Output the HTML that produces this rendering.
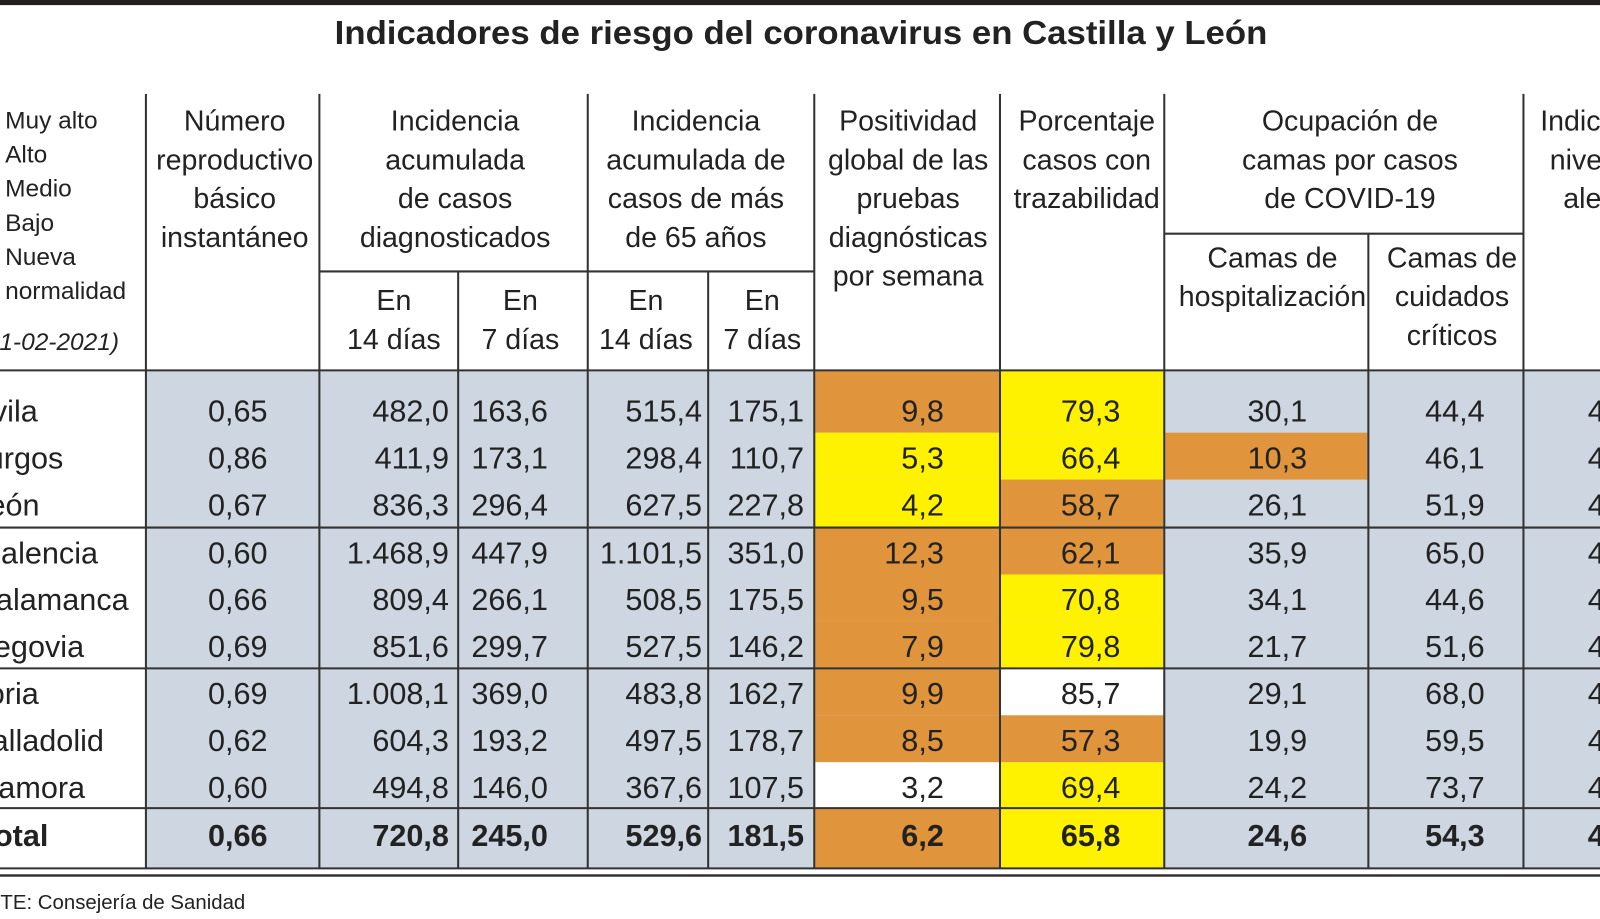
<!DOCTYPE html>
<html><head><meta charset="utf-8"><style>
html,body{margin:0;padding:0;background:#fff;width:1600px;height:919px;overflow:hidden}
svg{display:block}
text{font-family:"Liberation Sans",Arial,sans-serif;fill:#222}
</style></head><body>
<svg width="1600" height="919" xmlns="http://www.w3.org/2000/svg"><g id="s" transform="scale(1.0204)"></g></svg>
<script>
const s=document.getElementById('s');let h='';
const G='#cdd6e1',O='#e0953c',Y='#fff200',W='#ffffff';
h+=`<rect x="0" y="0" width="1600" height="5" fill="#231f1c"/>`;
h+=`<text x="785" y="43" text-anchor="middle" font-weight="bold" font-size="33" textLength="914" lengthAdjust="spacingAndGlyphs">Indicadores de riesgo del coronavirus en Castilla y León</text>`;
h+=`<rect x="143" y="363" width="1457" height="488" fill="${G}"/>`;
const rows=[[363,424],[424,470],[470,517],[517,563],[563,609],[609,655],[655,701],[701,747],[747,792],[792,851]];
const pos=[O,Y,Y,O,O,O,O,O,W,O], pct=[Y,Y,O,O,Y,Y,W,O,Y,Y];
rows.forEach((r,i)=>{h+=`<rect x="799" y="${r[0]}" width="180" height="${r[1]-r[0]}" fill="${pos[i]}"/>`;
h+=`<rect x="981" y="${r[0]}" width="159" height="${r[1]-r[0]}" fill="${pct[i]}"/>`;});
h+=`<rect x="1142" y="424" width="198" height="46" fill="${O}"/>`;
const L=(x1,y1,x2,y2,w)=>h+=`<line x1="${x1}" y1="${y1}" x2="${x2}" y2="${y2}" stroke="#333" stroke-width="${w||2}"/>`;
[143,313,576,798,980,1141,1493].forEach(x=>L(x,92,x,851));
[449,694].forEach(x=>L(x,266,x,851));L(1341,229,1341,851);
L(313,266,798,266);L(1141,229,1493,229);
L(0,363,1600,363);[517,655,792].forEach(y=>L(0,y,1600,y));L(0,851,1600,851);L(0,858,1600,858,2.5);
const T=(x,y,t,o)=>h+=`<text x="${x}" y="${y}" font-size="${(o&&o.fs)||28}" text-anchor="${(o&&o.a)||'middle'}" ${(o&&o.ex)||''}>${t}</text>`;
['Muy alto','Alto','Medio','Bajo','Nueva','normalidad'].forEach((t,i)=>T(5,126+i*33.4,t,{fs:24,a:'start'}));
T(-14,343,'21-02-2021)',{fs:24,a:'start',ex:'font-style="italic"'});
const hd=(cx,lines,y0)=>lines.forEach((t,i)=>T(cx,(y0||128)+i*38,t));
hd(230,['Número','reproductivo','básico','instantáneo']);
hd(446,['Incidencia','acumulada','de casos','diagnosticados']);
hd(682,['Incidencia','acumulada de','casos de más','de 65 años']);
hd(890,['Positividad','global de las','pruebas','diagnósticas','por semana']);
hd(1065,['Porcentaje','casos con','trazabilidad']);
hd(1323,['Ocupación de','camas por casos','de COVID-19']);
hd(1567,['Indicador','nivel de','alerta']);
[[386,'En','14 días'],[510,'En','7 días'],[633,'En','14 días'],[747,'En','7 días']].forEach(a=>hd(a[0],[a[1],a[2]],304));
hd(1247,['Camas de','hospitalización'],262);hd(1423,['Camas de','cuidados','críticos'],262);
const names=['Ávila','Burgos','León','Palencia','Salamanca','Segovia','Soria','Valladolid','Zamora','Total'];
const nx=[-28,-33,-28,-19,-24,-26,-32,-26,-20,-22];
const D=[
['0,65','482,0','163,6','515,4','175,1','9,8','79,3','30,1','44,4'],
['0,86','411,9','173,1','298,4','110,7','5,3','66,4','10,3','46,1'],
['0,67','836,3','296,4','627,5','227,8','4,2','58,7','26,1','51,9'],
['0,60','1.468,9','447,9','1.101,5','351,0','12,3','62,1','35,9','65,0'],
['0,66','809,4','266,1','508,5','175,5','9,5','70,8','34,1','44,6'],
['0,69','851,6','299,7','527,5','146,2','7,9','79,8','21,7','51,6'],
['0,69','1.008,1','369,0','483,8','162,7','9,9','85,7','29,1','68,0'],
['0,62','604,3','193,2','497,5','178,7','8,5','57,3','19,9','59,5'],
['0,60','494,8','146,0','367,6','107,5','3,2','69,4','24,2','73,7'],
['0,66','720,8','245,0','529,6','181,5','6,2','65,8','24,6','54,3']];
const cols=[[233,'middle'],[440,'end'],[537,'end'],[688,'end'],[788,'end'],[925,'end'],[1098,'end'],[1281,'end'],[1455,'end']];
const ys=[413,459,505,552,598,644,690,736,782,829];
D.forEach((r,i)=>{const b=i==9?'font-weight="bold"':'';
T(nx[i],ys[i],names[i],{fs:30,a:'start',ex:b});
r.forEach((v,j)=>T(cols[j][0],ys[i],v,{fs:30,a:cols[j][1],ex:b}));
T(1556,ys[i],'4',{fs:30,a:'start',ex:b});});
T(-54,891,'FUENTE: Consejería de Sanidad',{fs:20,a:'start'});
s.innerHTML=h;
</script>
</body></html>
